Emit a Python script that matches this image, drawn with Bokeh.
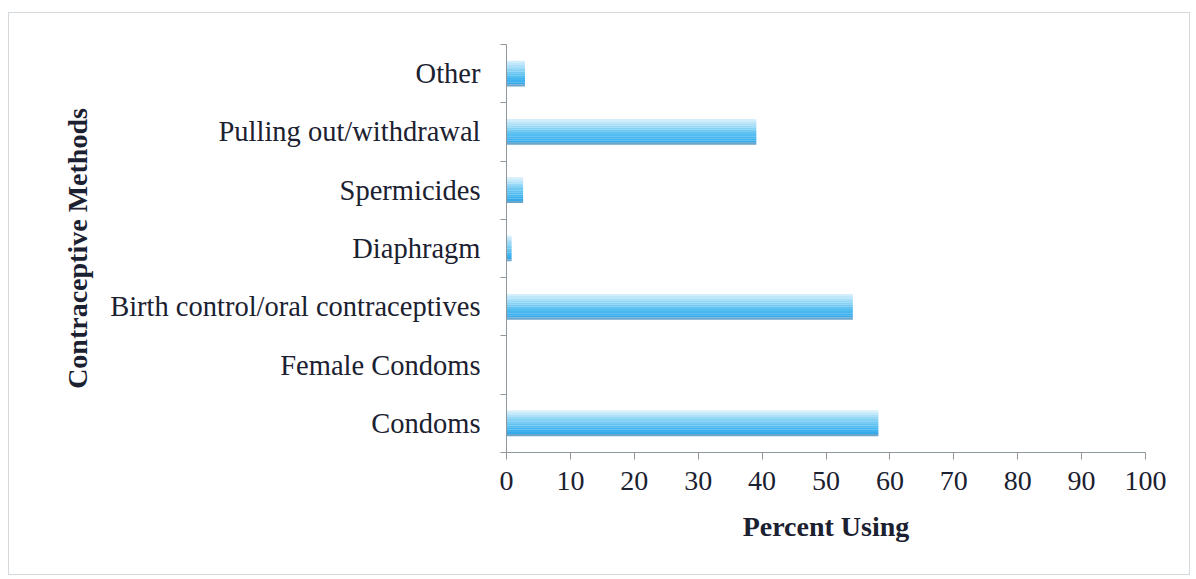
from bokeh.plotting import figure
from bokeh.models import FixedTicker, Range1d
from bokeh.embed import file_html
from bokeh.resources import INLINE

# Survey results: share of respondents using each method
methods = ["Condoms", "Female Condoms", "Birth control/oral contraceptives",
           "Diaphragm", "Spermicides", "Pulling out/withdrawal", "Other"]
percent_using = [58.2, 0.0, 54.2, 0.8, 2.6, 39.1, 2.9]
x_ticks = [0, 10, 20, 30, 40, 50, 60, 70, 80, 90, 100]

FONT = "Liberation Serif"
TEXT = "#1b2130"
AXIS = "#8d979c"

p = figure(width=1182, height=563, output_backend="svg", toolbar_location=None,
           x_range=Range1d(0, 100), y_range=Range1d(0, len(methods)),
           min_border_left=497, min_border_right=46, min_border_top=31,
           min_border_bottom=124)
p.styles = {"margin-left": "8px", "margin-top": "12px",
            "border": "1px solid #d3d9dc"}
p.outline_line_color = None
p.grid.visible = False
p.background_fill_color = "white"
p.border_fill_color = "white"

# Cylinder-like shading: stack thin strips from light (top) to deep blue (bottom)
shades = ["#d2eefb", "#bfe6f9", "#ace0f8", "#97d8f6", "#84d1f5", "#72caf3",
          "#62c3f2", "#54bdf0", "#49b7ef", "#3fb1ee", "#37aaea", "#6aa5cc"]
bar_h = 0.44
centers = [i + 0.5 for i in range(len(methods))]
n = len(shades)
strip = bar_h / n
for k, c in enumerate(shades):
    off = bar_h / 2 - strip * (k + 0.5)
    p.hbar(y=[y + off for y in centers], right=percent_using, left=0,
           height=strip * 1.02, fill_color=c, line_color=None)

# x axis
xa = p.xaxis[0]
xa.ticker = FixedTicker(ticks=x_ticks, minor_ticks=[])
xa.axis_line_color = AXIS
xa.major_tick_line_color = AXIS
xa.major_tick_out = 7
xa.major_tick_in = 0
xa.major_label_standoff = 12
xa.major_label_text_font = FONT
xa.major_label_text_font_size = "28px"
xa.major_label_text_color = TEXT
xa.axis_label = "Percent Using"
xa.axis_label_text_font = FONT
xa.axis_label_text_font_style = "bold"
xa.axis_label_text_font_size = "28px"
xa.axis_label_text_color = TEXT
xa.axis_label_standoff = 18

# y axis: labels at category centres, tick marks at category boundaries
ya = p.yaxis[0]
ya.ticker = FixedTicker(ticks=centers, minor_ticks=list(range(len(methods) + 1)))
ya.major_label_overrides = {c: m for c, m in zip(centers, methods)}
ya.axis_line_color = AXIS
ya.major_tick_line_color = None
ya.minor_tick_line_color = AXIS
ya.minor_tick_out = 6
ya.minor_tick_in = 0
ya.major_label_standoff = 20
ya.major_label_text_font = FONT
ya.major_label_text_font_size = "28.5px"
ya.major_label_text_color = TEXT
ya.axis_label = "Contraceptive Methods"
ya.axis_label_text_font = FONT
ya.axis_label_text_font_style = "bold"
ya.axis_label_text_font_size = "28px"
ya.axis_label_text_color = TEXT
ya.axis_label_standoff = 14

open("out.html", "w").write(file_html(p, INLINE))
